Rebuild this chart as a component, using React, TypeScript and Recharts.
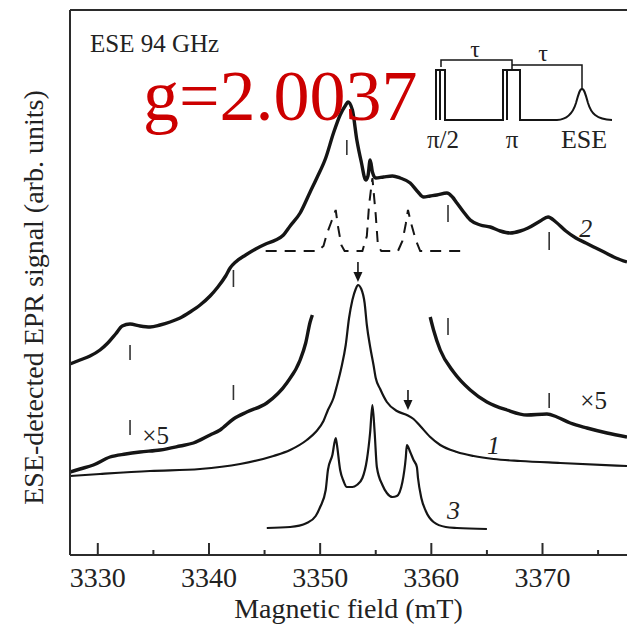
import React from 'react';
import { LineChart, Line, XAxis, YAxis, ReferenceLine, ReferenceDot, Label } from 'recharts';

const FONT = '"Liberation Serif", "Times New Roman", serif';
const INK = '#151515';
const AXIS = '#2b2b2b';

// Magnetic field axis (mT)
const fieldDomain = [3327.5, 3377.6];
const fieldTicks = [3330, 3335, 3340, 3345, 3350, 3355, 3360, 3365, 3370, 3375];
const signalDomain = [0, 545];

// Curve 2 (ESE spectrum, noisy, top)
const curve2Field = [3327.5, 3328.4, 3329.3, 3330.2, 3330.9, 3331.6, 3332.2, 3332.9, 3333.8, 3334.7, 3335.6, 3336.5, 3337.4, 3338.3, 3339.2, 3340.1, 3340.8, 3341.5, 3341.9, 3342.4, 3343.3, 3344.2, 3345.1, 3346.0, 3346.7, 3347.3, 3348.2, 3349.1, 3349.7, 3350.5, 3351.2, 3351.8, 3352.3, 3352.5, 3352.9, 3353.3, 3353.7, 3354.1, 3354.3, 3354.5, 3354.7, 3355.0, 3355.7, 3356.5, 3357.2, 3358.1, 3358.8, 3359.3, 3359.9, 3360.5, 3361.4, 3361.9, 3362.3, 3362.9, 3363.5, 3364.4, 3365.3, 3366.2, 3367.1, 3368.0, 3368.7, 3369.8, 3370.5, 3371.2, 3372.1, 3373.0, 3373.9, 3374.8, 3375.7, 3376.6, 3377.6];
const curve2Signal = [191, 195, 199, 205, 212, 221, 229, 231, 229, 228, 230, 233, 237, 243, 250, 259, 268, 279, 287, 293, 300, 306, 311, 315, 320, 329, 342, 363, 377, 397, 422, 440, 450, 453, 445, 415, 393, 375, 379, 395, 383, 377, 378, 379, 377, 372, 363, 358, 359, 360, 362, 358, 352, 343, 335, 330, 328, 324, 322, 324, 327, 334, 338, 333, 324, 317, 312, 307, 302, 297, 293];

// Curve 1 magnified x5 (left and right wings)
const x5LeftField = [3327.5, 3328.4, 3329.6, 3331.1, 3332.5, 3333.8, 3335.6, 3337.4, 3338.6, 3340.1, 3341.0, 3342.2, 3343.4, 3345.2, 3347.0, 3348.2, 3348.7, 3349.1, 3349.3];
const x5LeftSignal = [83, 86, 90, 98, 101, 103, 105, 109, 112, 120, 125, 136, 143, 152, 172, 195, 212, 233, 240];
const x5RightField = [3359.9, 3360.2, 3360.8, 3362.0, 3363.5, 3365.0, 3366.8, 3368.6, 3370.4, 3371.3, 3372.5, 3374.0, 3375.8, 3377.6];
const x5RightSignal = [238, 225, 205, 183, 165, 153, 145, 140, 141, 138, 132, 127, 122, 118];

// Curve 1 (ESE spectrum)
const curve1Field = [3327.5, 3330.2, 3334.7, 3339.2, 3342.8, 3345.8, 3347.3, 3348.8, 3349.6, 3350.3, 3350.7, 3351.2, 3351.5, 3351.9, 3352.3, 3352.6, 3352.9, 3353.2, 3353.4, 3353.7, 3354.0, 3354.2, 3354.5, 3354.8, 3355.0, 3355.4, 3356.0, 3356.9, 3357.8, 3358.4, 3359.0, 3359.9, 3360.8, 3362.3, 3363.8, 3365.6, 3368.0, 3371.6, 3377.6];
const curve1Signal = [79, 81, 84, 86, 91, 99, 105, 115, 123, 134, 145, 157, 169, 187, 210, 237, 255, 266, 270, 266, 252, 230, 208, 190, 177, 166, 153, 144, 140, 136, 129, 118, 110, 103, 99, 96, 94, 92, 89];

// Curve 3 (simulation)
const curve3Field = [3345.2, 3347.3, 3348.8, 3349.6, 3350.0, 3350.5, 3350.7, 3351.1, 3351.4, 3351.5, 3351.8, 3352.1, 3352.4, 3352.9, 3353.3, 3353.8, 3354.2, 3354.5, 3354.7, 3354.9, 3355.1, 3355.6, 3356.0, 3356.5, 3356.9, 3357.4, 3357.7, 3357.8, 3358.1, 3358.4, 3358.7, 3358.8, 3359.1, 3359.5, 3360.2, 3361.3, 3362.3, 3365.0];
const curve3Signal = [27, 28, 32, 39, 48, 65, 85, 100, 117, 111, 85, 74, 68, 68, 70, 77, 95, 123, 150, 123, 88, 70, 62, 58, 59, 73, 97, 110, 103, 95, 88, 77, 57, 44, 33, 28, 27, 26];

// Dashed line (component lines)
const dashedField = [3345.1, 3349.8, 3350.3, 3350.6, 3351.0, 3351.4, 3351.6, 3351.9, 3352.2, 3353.8, 3354.2, 3354.4, 3354.7, 3355.0, 3355.2, 3355.5, 3357.0, 3357.4, 3357.7, 3357.9, 3358.2, 3358.6, 3359.0, 3362.8];
const dashedSignal = [304, 304, 309, 321, 333, 345, 329, 310, 304, 304, 319, 350, 377, 340, 309, 304, 304, 314, 331, 345, 331, 315, 304, 304];

// Vertical marker ticks
const curve2MarkerField = [3332.9, 3342.2, 3352.4, 3361.5, 3370.6];
const curve2MarkerLow = [195, 268, 400, 333, 305];
const curve2MarkerHigh = [210, 285, 415, 350, 323];
const x5MarkerField = [3332.9, 3342.2, 3361.5, 3370.6];
const x5MarkerLow = [120, 155, 220, 147];
const x5MarkerHigh = [135, 170, 237, 162];

// Arrows
const arrowField = [3353.4, 3357.9];
const arrowTail = [293, 165];
const arrowTip = [273, 145];

// Curve labels
const curveLabelText = ['2', '1', '3'];
const curveLabelField = [3373.9, 3365.6, 3362.0];
const curveLabelSignal = [327, 110, 45];
const x5LabelField = [3335.2, 3374.6];
const x5LabelSignal = [120, 155];

const rows = (f: number[], s: number[]) => f.map((x, i) => ({ f: x, s: s[i] }));

const FieldTick = (props: any) => {
  const { x, y, payload } = props;
  const v = payload.value;
  const major = v % 10 === 0;
  return (
    <g>
      <line x1={x} x2={x} y1={y} y2={y - (major ? 12 : 5)} stroke={AXIS} strokeWidth={2} />
      {major && (
        <text x={x} y={y + 32} textAnchor="middle" fontSize={28} fontFamily={FONT} fill="#222">
          {v}
        </text>
      )}
    </g>
  );
};

const YTitle = (props: any) => {
  const vb = props.viewBox || {};
  const cx = vb.x + vb.width - 37;
  const cy = vb.y + vb.height / 2 + 15;
  return (
    <text
      x={cx}
      y={cy}
      transform={`rotate(-90 ${cx} ${cy})`}
      textAnchor="middle"
      dominantBaseline="central"
      fontSize={28}
      fontFamily={FONT}
      fill="#222"
    >
      ESE-detected EPR signal (arb. units)
    </text>
  );
};

const textShape = (txt: string, size: number, italic: boolean) => (p: any) => (
  <text
    x={p.cx}
    y={p.cy}
    textAnchor="middle"
    dominantBaseline="central"
    fontSize={size}
    fontStyle={italic ? 'italic' : 'normal'}
    fontFamily={FONT}
    fill="#222"
  >
    {txt}
  </text>
);

const arrowHead = (p: any) => (
  <path d={`M${p.cx - 4.5},${p.cy - 10} L${p.cx},${p.cy} L${p.cx + 4.5},${p.cy - 10} Z`} fill={INK} />
);

export default function App() {
  return (
    <div style={{ position: 'absolute', left: 0, top: 0, width: 627, height: 632, background: '#fff' }}>
      <LineChart width={627} height={632} margin={{ top: 9, right: 0, left: 69, bottom: 0 }}>
        <XAxis
          xAxisId={0}
          type="number"
          dataKey="f"
          domain={fieldDomain}
          allowDataOverflow
          ticks={fieldTicks}
          interval={0}
          height={77}
          tickLine={false}
          tickSize={0}
          tickMargin={0}
          tick={<FieldTick />}
          axisLine={{ stroke: AXIS, strokeWidth: 2 }}
        >
          <Label value="Magnetic field (mT)" position="insideBottom" offset={14} fontSize={28} fontFamily={FONT} fill="#222" />
        </XAxis>
        <XAxis
          xAxisId="top"
          orientation="top"
          type="number"
          dataKey="f"
          domain={fieldDomain}
          allowDataOverflow
          height={1}
          tick={false}
          tickLine={false}
          axisLine={{ stroke: AXIS, strokeWidth: 2 }}
        />
        <YAxis
          type="number"
          domain={signalDomain}
          allowDataOverflow
          width={1}
          tick={false}
          tickLine={false}
          axisLine={{ stroke: AXIS, strokeWidth: 2 }}
          label={(p: any) => <YTitle {...p} />}
        />

        <Line data={rows(dashedField, dashedSignal)} dataKey="s" type="linear" stroke={INK} strokeWidth={2} strokeDasharray="11 8" dot={false} isAnimationActive={false} />
        <Line data={rows(curve2Field, curve2Signal)} dataKey="s" type="monotone" stroke={INK} strokeWidth={3.4} dot={false} isAnimationActive={false} />
        <Line data={rows(x5LeftField, x5LeftSignal)} dataKey="s" type="monotone" stroke={INK} strokeWidth={3.4} dot={false} isAnimationActive={false} />
        <Line data={rows(x5RightField, x5RightSignal)} dataKey="s" type="monotone" stroke={INK} strokeWidth={3.4} dot={false} isAnimationActive={false} />
        <Line data={rows(curve1Field, curve1Signal)} dataKey="s" type="monotone" stroke={INK} strokeWidth={2.2} dot={false} isAnimationActive={false} />
        <Line data={rows(curve3Field, curve3Signal)} dataKey="s" type="monotone" stroke={INK} strokeWidth={2.2} dot={false} isAnimationActive={false} />

        {curve2MarkerField.map((f, i) => (
          <ReferenceLine key={`m2-${i}`} segment={[{ x: f, y: curve2MarkerLow[i] }, { x: f, y: curve2MarkerHigh[i] }]} stroke="#333" strokeWidth={1.6} />
        ))}
        {x5MarkerField.map((f, i) => (
          <ReferenceLine key={`m5-${i}`} segment={[{ x: f, y: x5MarkerLow[i] }, { x: f, y: x5MarkerHigh[i] }]} stroke="#333" strokeWidth={1.6} />
        ))}
        {arrowField.map((f, i) => (
          <ReferenceLine key={`a-${i}`} segment={[{ x: f, y: arrowTail[i] }, { x: f, y: arrowTip[i] + 4 }]} stroke={INK} strokeWidth={1.6} />
        ))}
        {arrowField.map((f, i) => (
          <ReferenceDot key={`ah-${i}`} x={f} y={arrowTip[i]} r={0} shape={arrowHead} />
        ))}
        {curveLabelText.map((t, i) => (
          <ReferenceDot key={`cl-${i}`} x={curveLabelField[i]} y={curveLabelSignal[i]} r={0} shape={textShape(t, 26, true)} />
        ))}
        {x5LabelField.map((f, i) => (
          <ReferenceDot key={`x5-${i}`} x={f} y={x5LabelSignal[i]} r={0} shape={textShape('\u00d75', 25, false)} />
        ))}
      </LineChart>

      <svg width={627} height={632} style={{ position: 'absolute', left: 0, top: 0, pointerEvents: 'none' }}>
        <text x={90} y={52} fontSize={25} fontFamily={FONT} fill="#222">ESE 94 GHz</text>
        <text x={143} y={120} fontSize={72} fontFamily={FONT} fill="#cc0000">g=2.0037</text>
        <g fill="none" stroke={INK} strokeWidth={2}>
          <path d="M436,120 V70 H445 V120 H503 V70 H520 V120 H557" />
          <path d="M440,70 V120" />
          <path d="M507,70 V120" />
          <path d="M557,120 C568,119.5 573,113 576,103 C579,92 580,89 582,89 C584,89 585,92 588,103 C591,113 596,119.5 612,120" />
          <path d="M441,67 V60 H512 V70" strokeWidth={1.5} />
          <path d="M512,65 H582 V89" strokeWidth={1.5} />
        </g>
        <text x={475} y={57} textAnchor="middle" fontSize={24} fontFamily={FONT} fill="#222">τ</text>
        <text x={543} y={61} textAnchor="middle" fontSize={24} fontFamily={FONT} fill="#222">τ</text>
        <text x={443} y={148} textAnchor="middle" fontSize={25} fontFamily={FONT} fill="#222">π/2</text>
        <text x={512} y={148} textAnchor="middle" fontSize={25} fontFamily={FONT} fill="#222">π</text>
        <text x={584} y={148} textAnchor="middle" fontSize={26} fontFamily={FONT} fill="#222">ESE</text>
      </svg>
    </div>
  );
}
